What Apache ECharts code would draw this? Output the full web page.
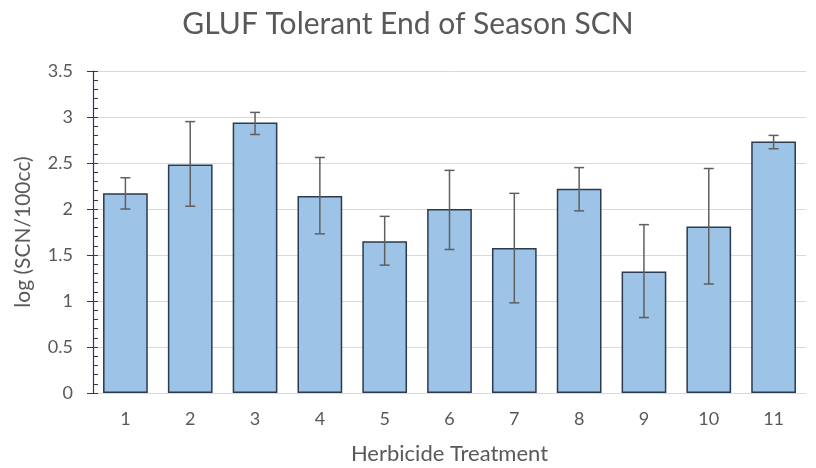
<!DOCTYPE html>
<html>
<head>
<meta charset="utf-8">
<script src="https://cdn.jsdelivr.net/npm/echarts@6/dist/echarts.min.js"></script>
<style>
html,body{margin:0;padding:0;background:#fff;}
#chart{width:816px;height:468px;}
</style>
</head>
<body>
<div id="chart"></div>
<script>
const categories = ['1','2','3','4','5','6','7','8','9','10','11'];
const means = [2.17, 2.485, 2.94, 2.14, 1.65, 2.0, 1.576, 2.22, 1.32, 1.81, 2.735];
const errHigh = [2.34, 2.95, 3.05, 2.56, 1.92, 2.42, 2.17, 2.45, 1.83, 2.44, 2.80];
const errLow = [2.0, 2.03, 2.81, 1.73, 1.39, 1.56, 0.98, 1.98, 0.82, 1.185, 2.655];
const yTicks = [0, 0.5, 1, 1.5, 2, 2.5, 3, 3.5];

const FONT = 'Lato';
const TXT = '#595959';

const errData = categories.map((c, i) => [i, errLow[i], errHigh[i]]);

const chart = echarts.init(document.getElementById('chart'));
chart.setOption({
  animation: false,
  title: {
    text: 'GLUF Tolerant End of Season SCN',
    left: 'center',
    top: 4,
    textStyle: {fontFamily: FONT, fontSize: 30, fontWeight: 'normal', color: TXT}
  },
  grid: {left: 93, right: 10, top: 71, bottom: 75, outerBoundsMode: 'none', containLabel: false},
  xAxis: {
    type: 'category',
    data: categories,
    name: 'Herbicide Treatment',
    nameLocation: 'middle',
    nameGap: 50,
    nameTextStyle: {fontFamily: FONT, fontSize: 22, color: TXT},
    axisLine: {lineStyle: {color: '#d9d9d9', width: 1}},
    axisTick: {show: false},
    axisLabel: {fontFamily: FONT, fontSize: 18, color: TXT, margin: 17}
  },
  yAxis: [{
    type: 'value',
    min: yTicks[0],
    max: yTicks[yTicks.length - 1],
    interval: 0.5,
    name: 'log (SCN/100cc)',
    nameLocation: 'middle',
    nameGap: 59,
    nameTextStyle: {fontFamily: FONT, fontSize: 21, color: TXT},
    axisLine: {show: true, lineStyle: {color: '#2d3b4f', width: 1.2}},
    axisTick: {show: true, inside: true, length: 5, lineStyle: {color: '#2d3b4f'}},
    minorTick: {show: true, splitNumber: 5, length: 5, lineStyle: {color: '#2d3b4f'}},
    axisLabel: {fontFamily: FONT, fontSize: 18, color: TXT, margin: 20},
    splitLine: {show: true, lineStyle: {color: '#d9d9d9', width: 1}}
  }, {
    type: 'value',
    position: 'left',
    min: yTicks[0],
    max: yTicks[yTicks.length - 1],
    interval: 0.5,
    axisLine: {show: false},
    axisTick: {show: true, inside: false, length: 6, lineStyle: {color: '#2d3b4f'}},
    axisLabel: {show: false},
    splitLine: {show: false}
  }],
  series: [{
    type: 'bar',
    data: means,
    barWidth: '69%',
    itemStyle: {color: '#9dc3e6', borderColor: '#2b3a4f', borderWidth: 1.5},
    z: 2
  }, {
    type: 'custom',
    data: errData,
    z: 3,
    renderItem: function (params, api) {
      const x = api.value(0);
      const lo = api.coord([x, api.value(1)]);
      const hi = api.coord([x, api.value(2)]);
      const hw = 5;
      const style = {stroke: '#5f5f5f', lineWidth: 1.5};
      return {
        type: 'group',
        children: [
          {type: 'line', shape: {x1: hi[0], y1: hi[1], x2: lo[0], y2: lo[1]}, style: style},
          {type: 'line', shape: {x1: hi[0] - hw, y1: hi[1], x2: hi[0] + hw, y2: hi[1]}, style: style},
          {type: 'line', shape: {x1: lo[0] - hw, y1: lo[1], x2: lo[0] + hw, y2: lo[1]}, style: style}
        ]
      };
    }
  }]
});
</script>
</body>
</html>
